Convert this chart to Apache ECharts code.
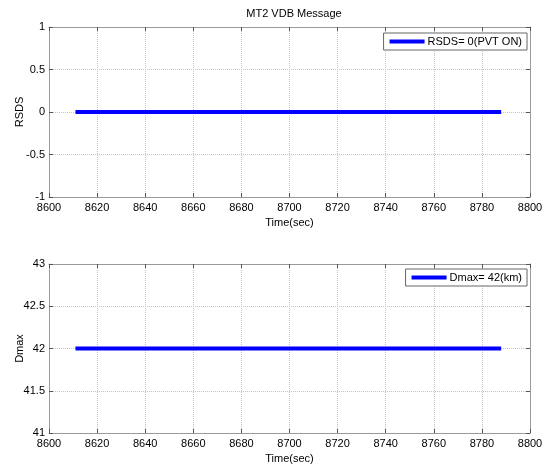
<!DOCTYPE html>
<html>
<head>
<meta charset="utf-8">
<script src="https://cdn.jsdelivr.net/npm/echarts@6/dist/echarts.min.js"></script>
<style>html,body{margin:0;padding:0;background:#fff}#c{width:555px;height:467px}</style>
</head>
<body>
<div id="c"></div>
<script>
const timeSec = [8611, 8788];
const rsds = [0, 0];
const dmax = [42, 42];
const xTicks = { min: 8600, max: 8800, interval: 20 };
const rsdsAxis = { min: -1, max: 1, interval: 0.5 };
const dmaxAxis = { min: 41, max: 43, interval: 0.5 };
const titleText = 'MT2 VDB Message';
const rsdsLegend = 'RSDS= 0(PVT ON)';
const dmaxLegend = 'Dmax= 42(km)';

const FONT = 'Liberation Sans';
const axisColor = '#9a9a9a';
const gridColor = '#c4c4c4';

function pairs(xs, ys) { return xs.map((x, i) => [x, ys[i]]); }
const plain = v => String(v);

function xAx(gi, pos, showLabel) {
  return {
    type: 'value', gridIndex: gi, position: pos,
    min: xTicks.min, max: xTicks.max, interval: xTicks.interval,
    name: showLabel ? 'Time(sec)' : '', nameLocation: 'middle', nameGap: 20, nameMoveOverlap: false,
    nameTextStyle: { color: '#000', fontSize: 11, fontFamily: FONT },
    axisLine: { show: true, onZero: false, lineStyle: { color: axisColor, width: 1 } },
    axisTick: { show: true, inside: true, length: 4, lineStyle: { color: '#555' } },
    axisLabel: { show: showLabel, color: '#000', fontSize: 11, fontFamily: FONT, margin: 5, formatter: plain },
    splitLine: { show: showLabel, lineStyle: { color: gridColor, type: 'dotted', width: 1 } }
  };
}
function yAx(gi, pos, ax, name, showLabel) {
  return {
    type: 'value', gridIndex: gi, position: pos,
    min: ax.min, max: ax.max, interval: ax.interval,
    name: showLabel ? name : '', nameLocation: 'middle', nameGap: 24, nameMoveOverlap: false,
    nameTextStyle: { color: '#000', fontSize: 11, fontFamily: FONT },
    axisLine: { show: true, onZero: false, lineStyle: { color: axisColor, width: 1 } },
    axisTick: { show: true, inside: true, length: 4, lineStyle: { color: '#555' } },
    axisLabel: { show: showLabel, color: '#000', fontSize: 11, fontFamily: FONT, margin: 4, formatter: plain },
    splitLine: { show: showLabel, lineStyle: { color: gridColor, type: 'dotted', width: 1 } }
  };
}
function legendAt(top, name) {
  return {
    data: [name], right: 28, top: top, orient: 'vertical',
    backgroundColor: '#fff', borderColor: '#666', borderWidth: 1,
    padding: [3, 5, 3, 6], itemWidth: 35, itemHeight: 4, itemGap: 4,
    icon: 'rect',
    textStyle: { color: '#000', fontSize: 11, fontFamily: FONT, padding: [0, 0, 0, -2] }
  };
}

const chart = echarts.init(document.getElementById('c'), null, { renderer: 'canvas' });
chart.setOption({
  animation: false,
  backgroundColor: '#fff',
  title: {
    text: titleText, left: 289, top: 3, textAlign: 'center',
    textStyle: { fontSize: 11, fontWeight: 'normal', color: '#000', fontFamily: FONT }
  },
  legend: [legendAt(33, rsdsLegend), legendAt(269, dmaxLegend)],
  grid: [
    { left: 49, right: 25, top: 27, height: 170, containLabel: false, outerBoundsMode: 'none' },
    { left: 49, right: 25, top: 264, height: 169, containLabel: false, outerBoundsMode: 'none' }
  ],
  xAxis: [xAx(0, 'bottom', true), xAx(0, 'top', false), xAx(1, 'bottom', true), xAx(1, 'top', false)],
  yAxis: [
    yAx(0, 'left', rsdsAxis, 'RSDS', true), yAx(0, 'right', rsdsAxis, '', false),
    yAx(1, 'left', dmaxAxis, 'Dmax', true), yAx(1, 'right', dmaxAxis, '', false)
  ],
  series: [
    { name: rsdsLegend, type: 'line', xAxisIndex: 0, yAxisIndex: 0, data: pairs(timeSec, rsds),
      showSymbol: false, color: '#0000ff', lineStyle: { width: 4, color: '#0000ff' } },
    { name: dmaxLegend, type: 'line', xAxisIndex: 2, yAxisIndex: 2, data: pairs(timeSec, dmax),
      showSymbol: false, color: '#0000ff', lineStyle: { width: 4, color: '#0000ff' } }
  ]
});
</script>
</body>
</html>
